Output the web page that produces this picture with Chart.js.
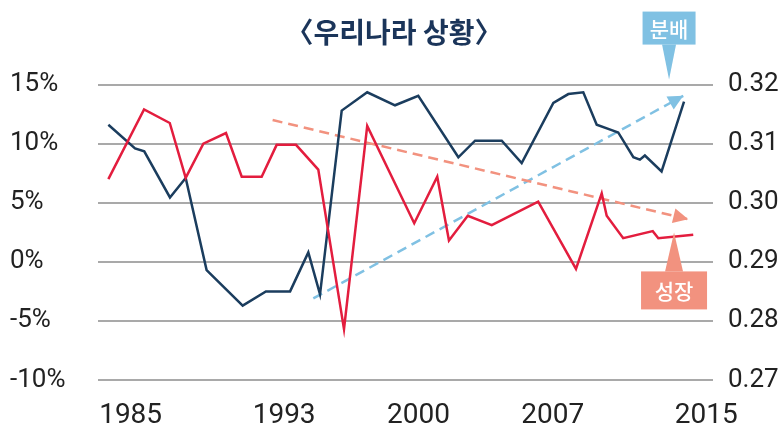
<!DOCTYPE html>
<html lang="ko">
<head>
<meta charset="utf-8">
<script src="https://cdn.jsdelivr.net/npm/chart.js@4"></script>
<style>
  html, body { margin: 0; padding: 0; background: #fff; }
</style>
</head>
<body>
<canvas id="chart" width="783" height="430"></canvas>
<script>
// values (x = year position along the axis)
const growthYears = [1983.84, 1985.70, 1987.04, 1987.87, 1988.79, 1989.97, 1990.79, 1991.83, 1992.61, 1993.62,
  1994.78, 1996.12, 1997.33, 1999.78, 2000.98, 2001.59, 2002.57, 2003.82, 2006.24, 2008.21,
  2009.55, 2009.81, 2010.67, 2012.21, 2012.50, 2014.32]
const growthValues = [7.0, 12.9, 11.75, 7.1, 10.0, 10.9, 7.2, 7.2, 9.9, 9.9,
  7.8, -5.7, 11.5, 3.27, 7.2, 1.8, 3.9, 3.1, 5.1, -0.6,
  5.8, 3.9, 2.0, 2.6, 2.0, 2.3]

const giniYears = [1983.84, 1985.23, 1985.71, 1987.05, 1987.87, 1988.96, 1990.84, 1992.05, 1993.31, 1994.26,
  1994.87, 1996.00, 1997.33, 1998.78, 1999.99, 2002.08, 2002.95, 2004.34, 2005.38, 2007.03,
  2007.81, 2008.59, 2009.29, 2010.07, 2010.41, 2011.20, 2011.54, 2011.80, 2012.67, 2013.84]
const giniValues = [0.3132, 0.3092, 0.3087, 0.3009, 0.3042, 0.2886, 0.2826, 0.2850, 0.2850, 0.2916,
  0.2845, 0.3156, 0.3187, 0.3165, 0.3181, 0.3077, 0.3105, 0.3105, 0.3067, 0.3169,
  0.3184, 0.3187, 0.3132, 0.3123, 0.3119, 0.3077, 0.3073, 0.3080, 0.3053, 0.3171]

// trend arrows
const growthTrendYears = [1992.40, 2014.06]
const growthTrendValues = [12.0, 3.6]
const giniTrendYears = [1994.52, 2013.80]
const giniTrendValues = [0.2838, 0.3181]

const xTicks = [1985, 1993, 2000, 2007, 2015]
const leftTicks = [-10, -5, 0, 5, 10, 15]
const rightTicks = [0.27, 0.28, 0.29, 0.30, 0.31, 0.32]

const RED = '#e31d3e'
const NAVY = '#1b3d5e'
const SALMON = '#f2927f'
const SKY = '#80c1e3'

function points(xs, ys) {
  return xs.map((x, i) => ({ x: x, y: ys[i] }))
}

// arrow heads at the end of the dashed trend lines
const arrowHeads = {
  id: 'arrowHeads',
  afterDatasetsDraw(chart) {
    const ctx = chart.ctx
    chart.data.datasets.forEach((ds, i) => {
      if (!ds.arrow) return
      const pts = chart.getDatasetMeta(i).data
      const a = pts[pts.length - 2], b = pts[pts.length - 1]
      const ang = Math.atan2(b.y - a.y, b.x - a.x)
      const len = 15, half = 7.5
      ctx.save()
      ctx.translate(b.x, b.y)
      ctx.rotate(ang)
      ctx.fillStyle = ds.borderColor
      ctx.beginPath()
      ctx.moveTo(0, 0)
      ctx.lineTo(-len, -half)
      ctx.lineTo(-len, half)
      ctx.closePath()
      ctx.fill()
      ctx.restore()
    })
  }
}

// label boxes with a pointer
const notes = [
  { text: '분배', axis: 'y2', x: 2013.06, y: 0.32085, color: SKY, w: 53, h: 33, gap: 35, base: 14, up: true },
  { text: '성장', axis: 'y', x: 2013.32, y: 2.49, color: SALMON, w: 66, h: 38, gap: 39, base: 18, up: false }
]
const callouts = {
  id: 'callouts',
  afterDraw(chart) {
    const ctx = chart.ctx
    notes.forEach(n => {
      const tx = chart.scales.x.getPixelForValue(n.x)
      const ty = chart.scales[n.axis].getPixelForValue(n.y)
      const by = n.up ? ty - n.gap : ty + n.gap
      const boxTop = n.up ? by - n.h : by
      ctx.save()
      ctx.fillStyle = n.color
      ctx.fillRect(tx - n.w / 2, boxTop, n.w, n.h)
      ctx.beginPath()
      ctx.moveTo(tx - n.base / 2, by)
      ctx.lineTo(tx + n.base / 2, by)
      ctx.lineTo(tx, ty)
      ctx.closePath()
      ctx.fill()
      ctx.fillStyle = '#fff'
      ctx.font = '500 21px "Noto Sans CJK KR"'
      ctx.textAlign = 'center'
      ctx.textBaseline = 'middle'
      ctx.fillText(n.text, tx, boxTop + n.h / 2 + 1)
      ctx.restore()
    })
  }
}

new Chart(document.getElementById('chart'), {
  type: 'line',
  data: {
    datasets: [
      { label: '성장', data: points(growthYears, growthValues), yAxisID: 'y', borderColor: RED, borderWidth: 2.5 },
      { label: '분배', data: points(giniYears, giniValues), yAxisID: 'y2', borderColor: NAVY, borderWidth: 2.5 },
      { data: points(growthTrendYears, growthTrendValues), yAxisID: 'y', borderColor: SALMON, borderWidth: 2.5, borderDash: [10, 6], arrow: true },
      { data: points(giniTrendYears, giniTrendValues), yAxisID: 'y2', borderColor: SKY, borderWidth: 2.5, borderDash: [10, 6], arrow: true }
    ]
  },
  options: {
    responsive: false,
    animation: false,
    layout: { padding: { left: 10, right: 5, top: 0, bottom: 0 } },
    elements: { point: { radius: 0 }, line: { tension: 0, fill: false } },
    plugins: {
      legend: { display: false },
      tooltip: { enabled: false },
      title: {
        display: true,
        text: '〈우리나라 상황〉',
        color: '#1b355a',
        font: { family: '"Noto Sans CJK KR"', size: 28, weight: 'bold', lineHeight: 1.2 },
        padding: { top: 16, bottom: 35 }
      }
    },
    scales: {
      x: {
        type: 'linear',
        min: 1983.3,
        max: 2015.35,
        afterBuildTicks: s => { s.ticks = xTicks.map(v => ({ value: v })) },
        afterFit: s => { s.height = 50 },
        grid: { display: false, drawTicks: false },
        border: { display: false },
        ticks: {
          padding: 19,
          color: '#222',
          font: { family: 'Roboto', size: 28 },
          callback: v => String(v)
        }
      },
      y: {
        position: 'left',
        min: -10,
        max: 15,
        afterBuildTicks: s => { s.ticks = leftTicks.map(v => ({ value: v })) },
        afterFit: s => { s.width = 88 },
        grid: { color: '#a9a9a9', lineWidth: 2, drawTicks: false },
        border: { display: false },
        ticks: {
          crossAlign: 'far',
          color: '#222',
          font: { family: 'Roboto', size: 26 },
          callback: v => v + '%'
        }
      },
      y2: {
        position: 'right',
        min: 0.27,
        max: 0.32,
        afterBuildTicks: s => { s.ticks = rightTicks.map(v => ({ value: v })) },
        afterFit: s => { s.width = 65 },
        grid: { display: false, drawTicks: false },
        border: { display: false },
        ticks: {
          padding: 15,
          color: '#222',
          font: { family: 'Roboto', size: 26 },
          callback: v => v.toFixed(2)
        }
      }
    }
  },
  plugins: [arrowHeads, callouts]
})
</script>
</body>
</html>
